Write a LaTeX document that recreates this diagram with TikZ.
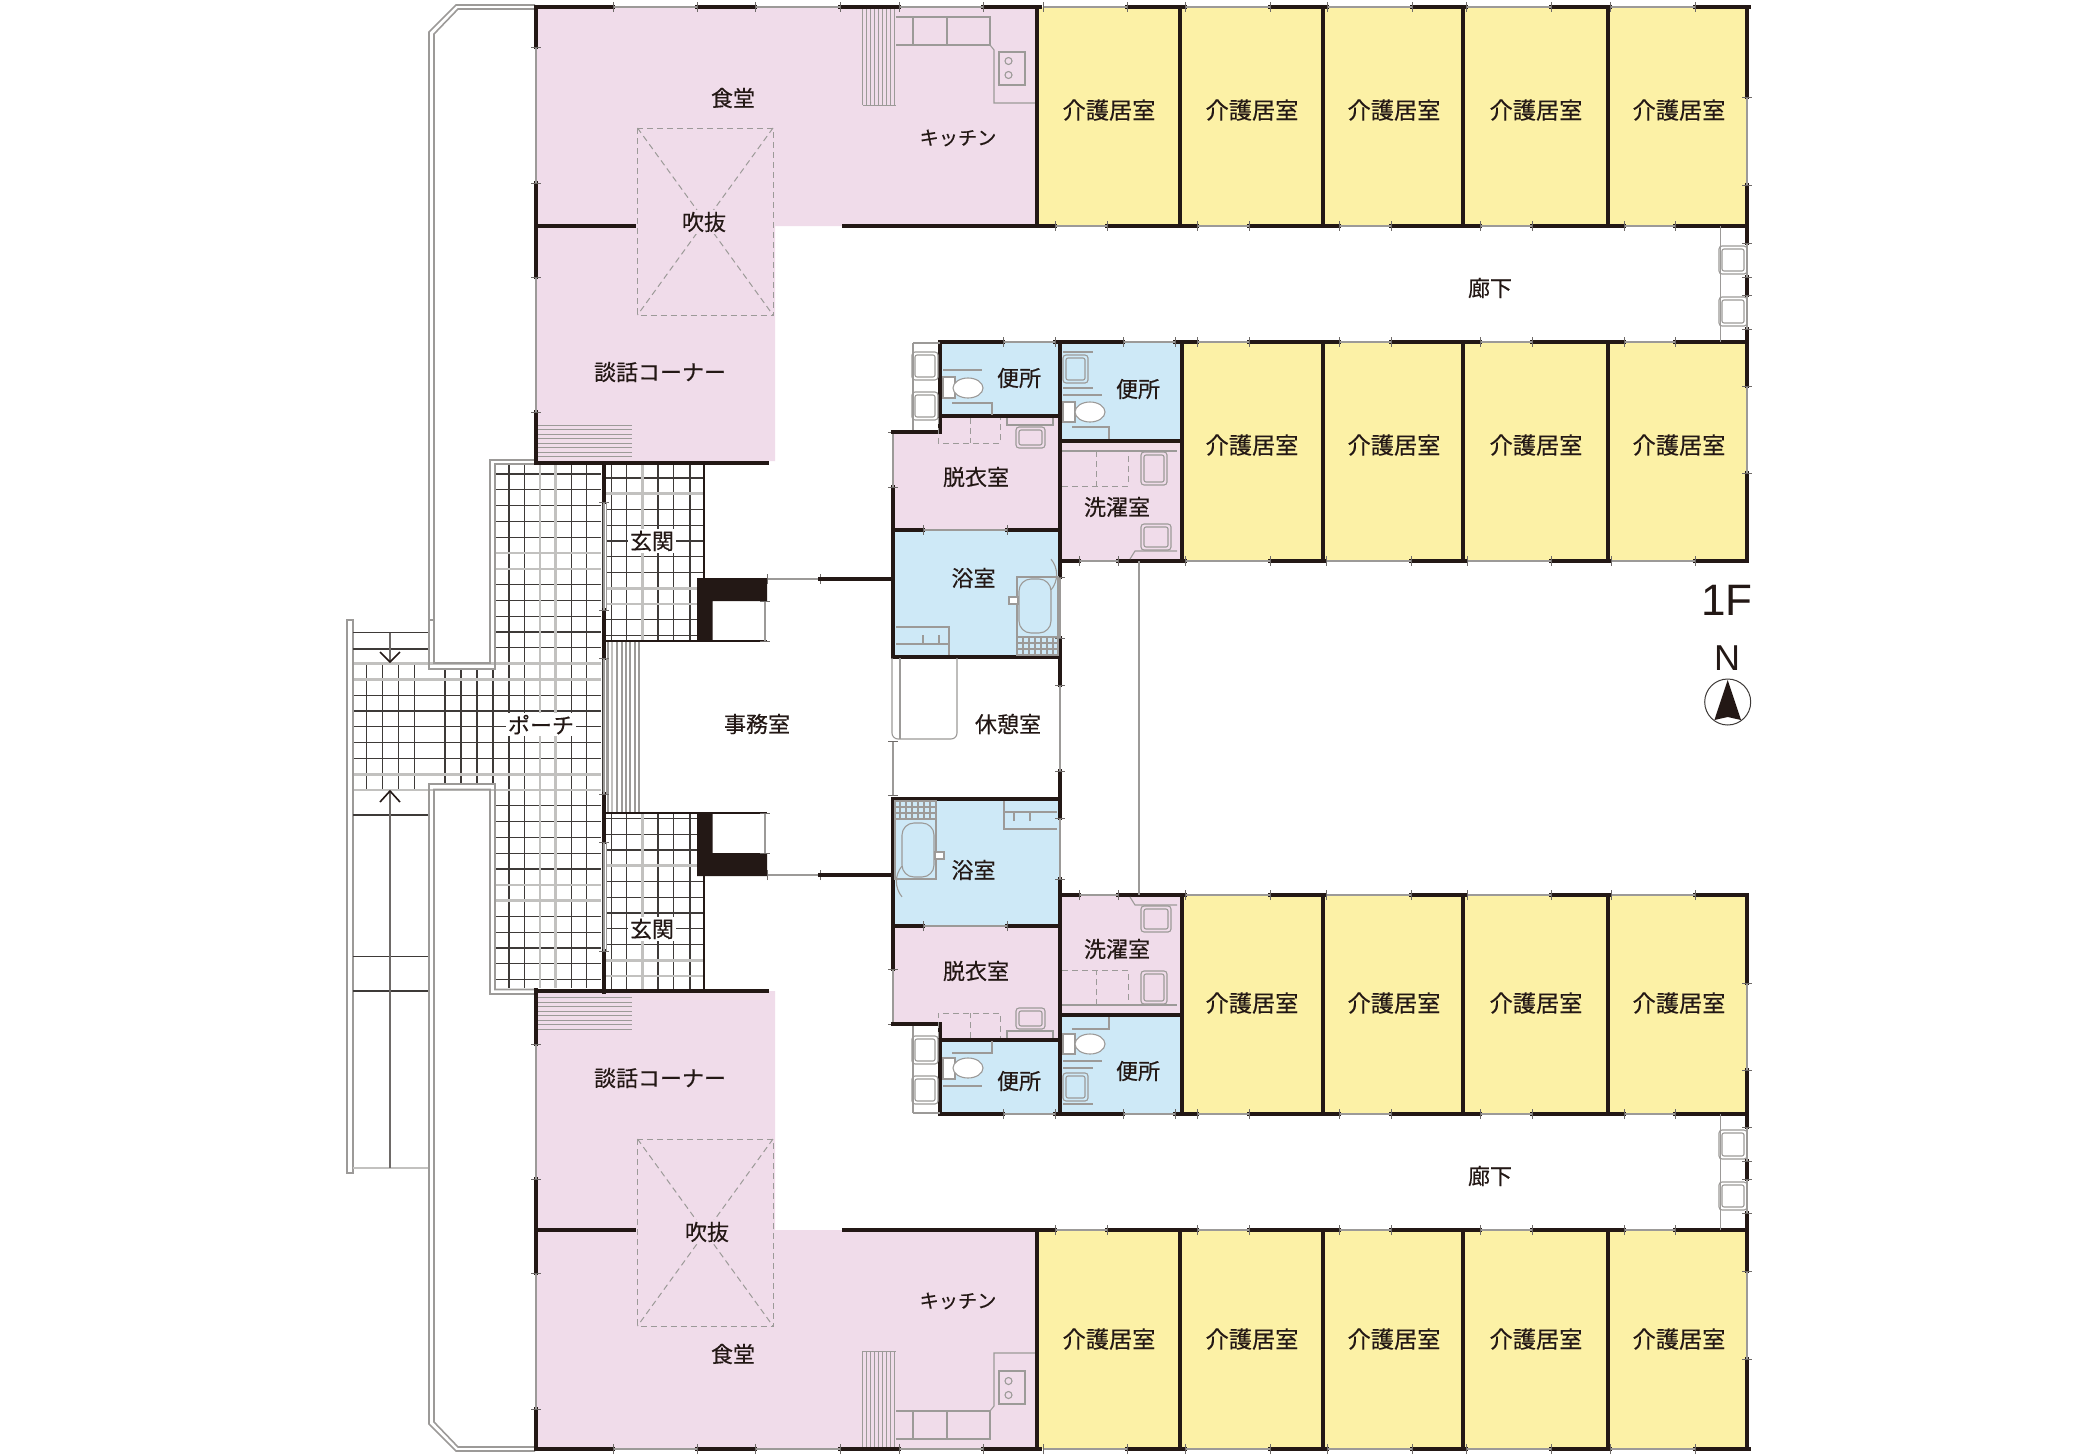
\documentclass[tikz,border=0pt]{standalone}
\usepackage{fontspec}
\setmainfont{Noto Sans CJK JP}[RawFeature={embolden=0.35}]
\newfontfamily\latinfont{Liberation Sans}
\definecolor{wallcol}{HTML}{231815}
\definecolor{gridcol}{HTML}{3E3A38}
\definecolor{jambcol}{HTML}{6E6A68}
\definecolor{railcol}{HTML}{9C9A98}
\definecolor{palecol}{HTML}{C2C1BF}
\definecolor{dinecol}{HTML}{F0DCEA}
\definecolor{carecol}{HTML}{FCF1A6}
\definecolor{wetcol}{HTML}{CEE9F7}
\tikzset{wall/.style={line width=1.6pt,wallcol,line cap=rect},
         opening/.style={line width=.7pt,railcol},
         jamb/.style={line width=.35pt,jambcol},
         rail/.style={line width=.8pt,railcol},
         fixture/.style={line width=.55pt,railcol},
         dashfix/.style={line width=.5pt,railcol,densely dashed},
         hatchline/.style={line width=.45pt,railcol},
         gridline/.style={line width=.6pt,gridcol},
         paleline/.style={line width=1.3pt,palecol},
         room/.style={font=\fontsize{11pt}{12pt}\selectfont,text=wallcol,inner sep=0pt},
         careroom/.style={room,font=\fontsize{11.6pt}{12pt}\selectfont},
         gapped/.style={room,fill=#1,inner sep=1pt}}
% thick wall pieces and thin openings, at a fixed y or x
\newcommand{\hwall}[2]{\foreach \a/\b in {#2}{\draw[wall] (\a,#1) -- (\b,#1);}}
\newcommand{\vwall}[2]{\foreach \a/\b in {#2}{\draw[wall] (#1,\a) -- (#1,\b);}}
\newcommand{\hgap}[2]{\foreach \a/\b in {#2}{
  \draw[opening] (\a,#1) -- (\b,#1);
  \draw[jamb] (\a,{#1-5}) -- (\a,{#1+5}) (\b,{#1-5}) -- (\b,{#1+5});}}
\newcommand{\vgap}[2]{\foreach \a/\b in {#2}{
  \draw[opening] (#1,\a) -- (#1,\b);
  \draw[jamb] ({#1-5},\a) -- ({#1+5},\a) ({#1-5},\b) -- ({#1+5},\b);}}
\newcommand{\basin}[4]{\draw[fixture,rounded corners=1.5pt] (#1,#2) rectangle (#3,#4);
  \draw[fixture,rounded corners=1pt] ({#1+3},{#2+3}) rectangle ({#3-3},{#4-3});}

% one wing, drawn as the upper one; the lower one is its mirror image
\newcommand{\wing}{
  \fill[carecol] (1037,7) rectangle (1747,226);
  \fill[carecol] (1182,342) rectangle (1747,562);
  \fill[wetcol] (940,342) rectangle (1060,416);
  \fill[wetcol] (1060,342) rectangle (1180,441);
  \fill[wetcol] (893,530) rectangle (1060,657);
  \fill[dinecol] (940,416) -- (1060,416) -- (1060,530) -- (893,530) -- (893,432) -- (940,432) -- cycle;
  \fill[dinecol] (1060,441) rectangle (1180,561);
  % kitchen
  \foreach \x in {862.5,866.5,...,895.5}{\draw[hatchline] (\x,8) -- (\x,105);}
  \draw[hatchline] (862.5,105) -- (895.5,105);
  \draw[fixture] (895.5,17) -- (990,17) -- (990,45) -- (895.5,45);
  \draw[fixture] (913,17) -- (913,45) (947,17) -- (947,45);
  \draw[fixture] (990,45) -- (994,50) -- (994,103) -- (1035,103);
  \draw[fixture] (999,52) rectangle (1025,85);
  \draw[fixture] (1008.5,61) circle (3.5) (1008.5,75) circle (3.5);
  % outer walls of the care rooms
  \hwall{7}{536/613,697/755,840/899,983/1040,1127/1185,1270/1327,1412/1466,1551/1610,1695/1749}
  \hgap{7}{613/697,755/840,899/983,1043/1127,1185/1270,1327/1412,1466/1551,1610/1695}
  \hwall{226}{536/634,844/1055,1107/1197,1249/1339,1391/1480,1532/1624,1675/1747}
  \hgap{226}{1055/1107,1197/1249,1339/1391,1480/1532,1624/1675}
  \hwall{342}{940/1003,1055/1123,1175/1197,1249/1339,1391/1480,1532/1624,1675/1747}
  \hgap{342}{1003/1055,1123/1175,1197/1249,1339/1391,1480/1532,1624/1675}
  \hwall{561}{1060/1079,1118/1185,1270/1324,1411/1465,1551/1610,1695/1747}
  \hgap{561}{1079/1118,1185/1270,1326/1411,1467/1551,1611/1695}
  \foreach \x in {1037,1180,1323,1463,1608}{\vwall{\x}{7/226}}
  \foreach \x in {1182,1323,1463,1608}{\vwall{\x}{342/561}}
  \vwall{1747}{7/97,185/243,277/295,329/386,473/561}
  \vgap{1747}{97/185,243/277,295/329,386/473}
  \vwall{536}{7/47,183/277,412/463}
  \vgap{536}{47/183,277/412}
  % walls of the wet rooms
  \vwall{893}{487/657}
  \vgap{893}{432/487}
  \hwall{432}{893/940}
  \vwall{940}{342/432}
  \hwall{416}{940/1060}
  \hwall{441}{1060/1182}
  \hwall{530}{893/923,1007/1060}
  \hgap{530}{923/1007}
  \hwall{657}{893/1060}
  \vwall{1060}{342/577,638/685}
  \vgap{1060}{577/638}
  \draw[opening] (1060,685) -- (1060,728);
  \draw[jamb] (1055,685) -- (1065,685);
  % wash basins outside the toilet and at the end of the corridor
  \draw[fixture] (913,343) -- (940,343) (913,430) -- (913,343);
  \basin{912}{352}{938}{380}
  \basin{912}{392}{938}{420}
  \draw[fixture] (1720.5,226) -- (1720.5,342);
  \basin{1719}{246}{1747}{274}
  \basin{1719}{297}{1747}{326}
  % toilets
  \draw[fixture] (943,370) -- (982,370) (952,403) -- (992,403) -- (992,415);
  \draw[fixture,fill=white] (943,377) rectangle (955,398);
  \draw[fixture,fill=white] (968,388) ellipse (15 and 10);
  \basin{1063}{355}{1088}{383}
  \draw[fixture] (1063,352) -- (1093,352) (1063,388) -- (1093,388) (1063,395) -- (1102,395);
  \draw[fixture] (1072,427) -- (1109,427) -- (1109,439);
  \draw[fixture,fill=white] (1063,402) rectangle (1075,422);
  \draw[fixture,fill=white] (1090,412) ellipse (15 and 10);
  % changing room and laundry
  \draw[dashfix] (938,418) -- (938,443) -- (1000,443) -- (1000,418) (970.7,418) -- (970.7,443);
  \draw[fixture] (1007,418) -- (1007,425) -- (1053,425) -- (1053,418);
  \basin{1016}{427}{1045}{448}
  \draw[dashfix] (1062,486) -- (1128,486) -- (1128,451) (1096.7,451) -- (1096.7,486);
  \draw[fixture] (1062,451) -- (1177,451);
  \basin{1141}{452}{1167}{485}
  \basin{1141}{524}{1171}{550}
  \draw[fixture] (1130,559) -- (1135,551) -- (1177,551);
}
% the fittings of one bathroom
\newcommand{\bathfix}{
  \draw[fixture] (1017,577) rectangle (1058,655);
  \draw[fixture,rounded corners=6pt] (1019,579) rectangle (1051,633);
  \draw[fixture] (1051,590) arc[start angle=40,end angle=-40,radius=24];
  \draw[fixture,fill=white] (1009,597) rectangle (1018,604);
  \foreach \x in {1023,1029,...,1053}{\draw[fixture] (\x,637) -- (\x,655);}
  \draw[fixture] (1017,637) -- (1058,637) (1017,643) -- (1058,643) (1017,649) -- (1058,649);
  \draw[fixture] (896,627) -- (949,627) -- (949,655) (896,644) -- (949,644);
  \draw[fixture] (923,635) -- (923,644) (939,635) -- (939,644);
}
% one entrance hall
\newcommand{\entrance}{
  \foreach \y in {425,429.5,...,460}{\draw[hatchline] (538,\y) -- (632,\y);}
  \hwall{463}{536/767}
  \draw[line width=1pt,wallcol] (604,641) -- (767,641);
  \draw[line width=.7pt,wallcol] (704,464) -- (704,578);
  \fill[wallcol] (697,578) -- (767,578) -- (767,601) -- (712.5,601) -- (712.5,641) -- (697,641) -- cycle;
  \draw[opening] (765,601) -- (765,641);
  \draw[jamb] (760,601) -- (770,601) (760,641) -- (770,641);
  \hgap{579}{767/820}
  \hwall{579}{820/893}
}
% the void over the dining room
\newcommand{\void}[2]{
  \draw[dashfix] (637.5,#1) rectangle (773,#2);
  \draw[dashfix] (637.5,#1) -- (773,#2) (773,#1) -- (637.5,#2);
}

\begin{document}
\begin{tikzpicture}[x=.5pt,y=-.5pt]
\useasboundingbox (0,0) rectangle (2100,1456);
\fill[white] (0,0) rectangle (2100,1456);
% pink halls
\fill[dinecol] (536,7) -- (1037,7) -- (1037,226) -- (775,226) -- (775,461) -- (536,461) -- cycle;
\fill[dinecol] (536,1449) -- (1037,1449) -- (1037,1230) -- (775,1230) -- (775,991) -- (536,991) -- cycle;
% porch paving
\foreach \i in {0,...,32}{\draw[gridline] (496,{474+15.8*\i}) -- (601,{474+15.8*\i});}
\foreach \i in {12,...,20}{\draw[gridline] (353,{474+15.8*\i}) -- (496,{474+15.8*\i});}
\foreach \x in {509,524.6,571.2,586.8,602.3}{\draw[gridline] (\x,465) -- (\x,988);}
\foreach \x in {366.7,382.7,398.7,414.7}{\draw[gridline] (\x,663) -- (\x,790);}
\foreach \x in {445,461,477,493}{\draw[gridline] (\x,669) -- (\x,784);}
\foreach \i in {5,6,12,13,19,20,26,27}{\draw[paleline] (496,{474+15.8*\i}) -- (601,{474+15.8*\i});}
\foreach \i in {12,13,19,20}{\draw[paleline] (353,{474+15.8*\i}) -- (496,{474+15.8*\i});}
\foreach \x in {540,555.7}{\draw[paleline] (\x,465) -- (\x,988);}
% entrance paving
\foreach \i in {0,...,10}{
  \draw[gridline] (606,{478+15.75*\i}) -- (704,{478+15.75*\i});
  \draw[gridline] (606,{976-15.75*\i}) -- (704,{976-15.75*\i});}
\foreach \x in {611.4,626.8,657.9,673.6,690}{
  \draw[gridline] (\x,464) -- (\x,641);
  \draw[gridline] (\x,813) -- (\x,990);}
\foreach \i in {1,7,8}{\draw[paleline] (606,{478+15.75*\i}) -- (704,{478+15.75*\i});}
\foreach \i in {0,1,7}{\draw[paleline] (606,{976-15.75*\i}) -- (704,{976-15.75*\i});}
\draw[paleline] (642.5,464) -- (642.5,641) (642.5,813) -- (642.5,990);
% steps into the office
\foreach \x in {608,617,622,626,630,635,639}{\draw[opening] (\x,642) -- (\x,812);}
\draw[paleline] (612,642) -- (612,812);
% outdoor stairs
\draw[rail,line width=1pt] (347,1173) -- (347,620) -- (353,620) -- (353,1173) -- cycle;
\foreach \y in {632.7,649,815,956.7,991}{\draw[gridline] (353,\y) -- (429,\y);}
\draw[paleline] (353,1168) -- (429,1168);
\draw[line width=1.1pt,jambcol] (390,632.7) -- (390,661);
\draw[line width=.8pt,wallcol] (380,652) -- (390,662) -- (400,652);
\draw[line width=1.1pt,jambcol] (390,792) -- (390,1168);
\draw[line width=.8pt,wallcol] (380,802) -- (390,791) -- (400,802);
% double rail round the terrace and the porch
\draw[rail] (535,5) -- (456,5) -- (429,32) -- (429,669) -- (495,669) -- (495,464) -- (535,464);
\draw[rail] (535,9) -- (458,9) -- (434,34) -- (434,663) -- (490,663) -- (490,460) -- (535,460);
\draw[rail] (535,1451) -- (456,1451) -- (429,1424) -- (429,784) -- (495,784) -- (495,989.5) -- (535,989.5);
\draw[rail] (535,1447) -- (458,1447) -- (434,1422) -- (434,789.5) -- (490,789.5) -- (490,994) -- (535,994);
\draw[rail] (429,620) -- (434,620);
% the two wings
\wing
\begin{scope}[shift={(0,1456)},yscale=-1]
\wing
\end{scope}
\entrance
\begin{scope}[shift={(0,1454)},yscale=-1]
\entrance
\end{scope}
\draw[wall] (536,990) -- (536,994);
% wall between porch and halls
\vwall{604}{463/502,610/658,794/842,951/992}
\vgap{604}{502/610,658/794,842/951}
\draw[opening] (606.5,502) -- (606.5,610) (606.5,658) -- (606.5,794) (606.5,842) -- (606.5,951);
% bathrooms
\bathfix
\begin{scope}[rotate around={180:(976.5,728)}]
\bathfix
\end{scope}
% rest room
\draw[fixture,rounded corners=3pt] (892,658) -- (892,739) -- (957,739) -- (957,658);
\draw[fixture] (900,658) -- (900,739);
\vgap{893}{741/795}
% line across the yard
\draw[line width=.6pt,railcol] (1139,561) -- (1139,895);
\void{128}{315}
\void{1139}{1326}
% room names
\foreach \x in {1109,1252,1394,1536,1679}{
  \node[careroom] (care-\x-n) at (\x,110) {介護居室};
  \node[careroom] (care-\x-s) at (\x,1339) {介護居室};}
\foreach \x in {1252,1394,1536,1679}{
  \node[careroom] (care-\x-mn) at (\x,445) {介護居室};
  \node[careroom] (care-\x-ms) at (\x,1003) {介護居室};}
\node[room] (hall-n) at (1490,288) {廊下};
\node[room] (hall-s) at (1490,1176) {廊下};
\node[room] (dining-n) at (733,98) {食堂};
\node[room] (dining-s) at (733,1354) {食堂};
\node[room,font=\fontsize{9.6pt}{12pt}\selectfont] (kitchen-n) at (958,138) {キッチン};
\node[room,font=\fontsize{9.6pt}{12pt}\selectfont] (kitchen-s) at (958,1301) {キッチン};
\node[gapped=dinecol] (void-n) at (704,222) {吹抜};
\node[gapped=dinecol] (void-s) at (707,1232) {吹抜};
\node[room] (lounge-n) at (660,372) {談話コーナー};
\node[room] (lounge-s) at (660,1078) {談話コーナー};
\node[gapped=white] (entry-n) at (652,541) {玄関};
\node[gapped=white] (entry-s) at (652,929) {玄関};
\node[gapped=white] (porch) at (541,724.6) {ポーチ};
\node[room] (office) at (757,724) {事務室};
\node[room] (rest) at (1008,724) {休憩室};
\node[room] (bath-n) at (973.5,578) {浴室};
\node[room] (bath-s) at (973.5,870) {浴室};
\node[room] (change-n) at (976,477) {脱衣室};
\node[room] (change-s) at (976,971) {脱衣室};
\node[room] (laundry-n) at (1117,507) {洗濯室};
\node[room] (laundry-s) at (1117,949) {洗濯室};
\node[room] (wc-a-n) at (1019,378) {便所};
\node[room] (wc-b-n) at (1138,389) {便所};
\node[room] (wc-a-s) at (1019,1081) {便所};
\node[room] (wc-b-s) at (1138,1071) {便所};
% floor and north mark
\node[font=\latinfont\fontsize{22pt}{24pt}\selectfont,text=wallcol,inner sep=0pt] (floor) at (1727,600) {1F};
\node[font=\latinfont\fontsize{18pt}{20pt}\selectfont,text=wallcol,inner sep=0pt] (north) at (1727,658) {N};
\draw[line width=.5pt,gridcol] (1727.7,702) circle (23);
\fill[wallcol] (1727.7,680) -- (1741,720) -- (1727.7,717) -- (1714.4,720) -- cycle;
\end{tikzpicture}
\end{document}
